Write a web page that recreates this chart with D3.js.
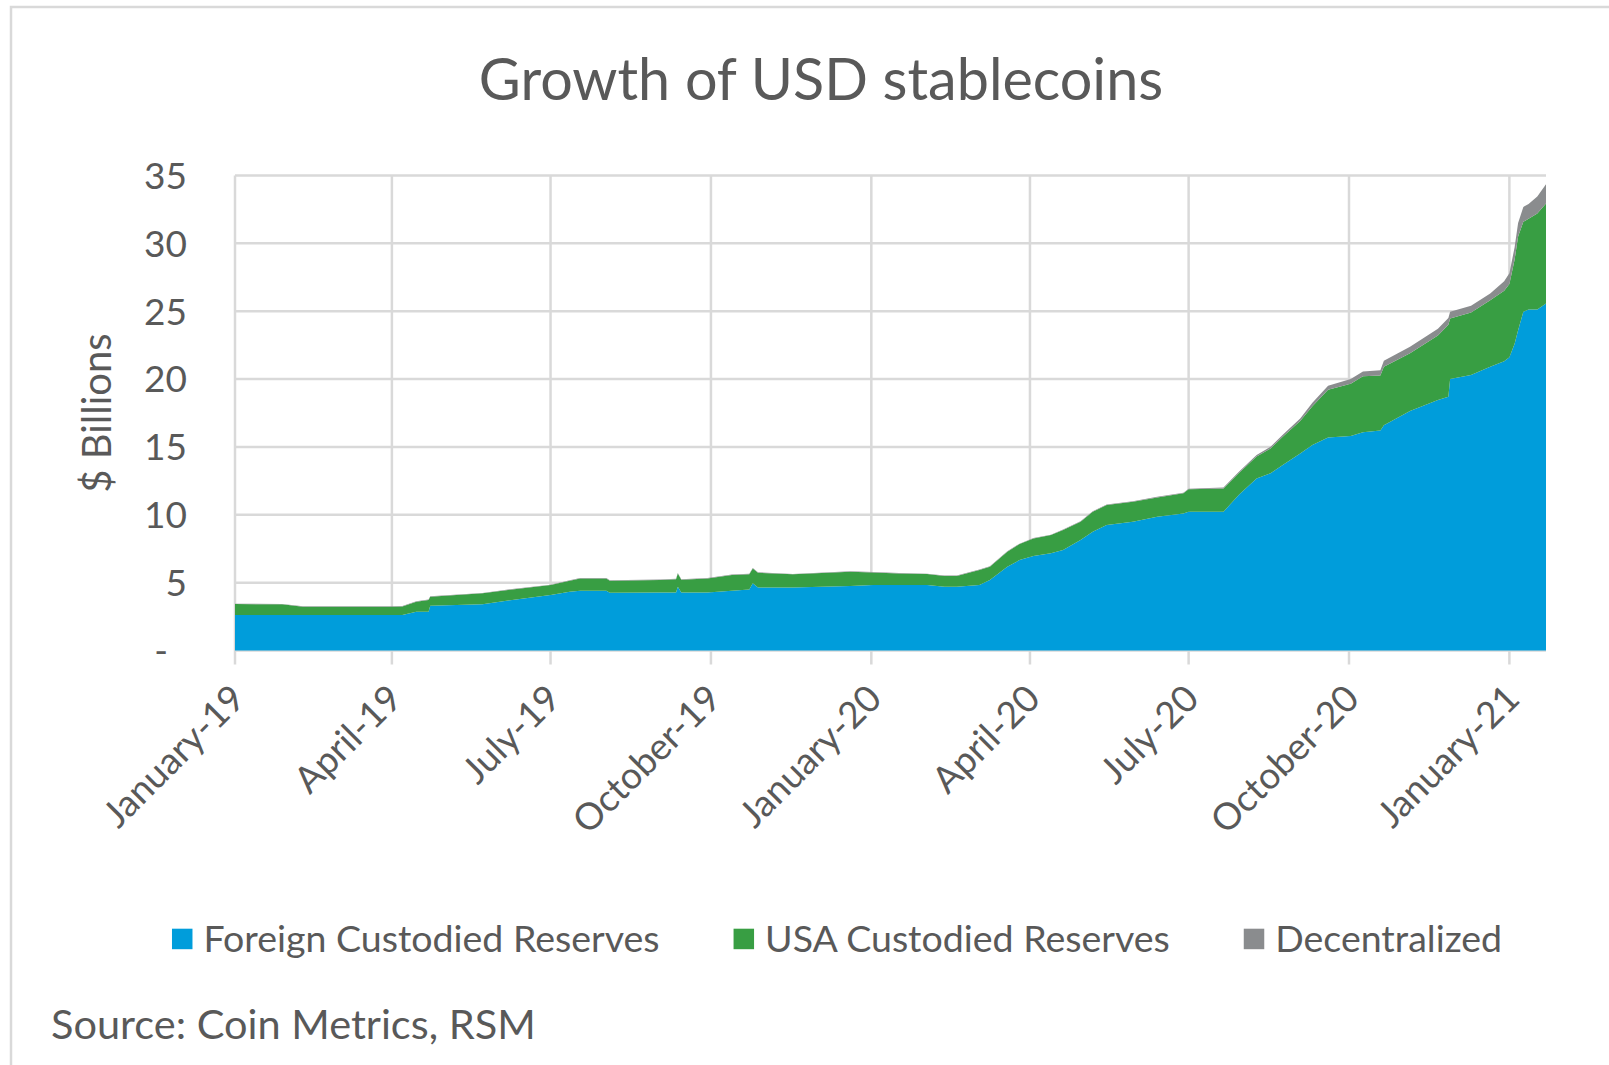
<!DOCTYPE html>
<html>
<head>
<meta charset="utf-8">
<script src="https://cdn.jsdelivr.net/npm/d3@7"></script>
<style>
    body { margin: 0; background: #ffffff; }
    svg text { font-family: Lato, "Noto Sans", sans-serif; fill: #595959; }
</style>
</head>
<body>
<svg id="chart" width="1609" height="1065"></svg>
<script>
// values ($ billions)
var dates = [
    '2019-01-01', '2019-01-28', '2019-02-09', '2019-04-01', '2019-04-07', '2019-04-15', '2019-04-22', '2019-04-23',
    '2019-05-23', '2019-06-09', '2019-07-01', '2019-07-12', '2019-07-18', '2019-08-02', '2019-08-04', '2019-09-02',
    '2019-09-11', '2019-09-12', '2019-09-14', '2019-09-29', '2019-10-13', '2019-10-23', '2019-10-25', '2019-10-28',
    '2019-11-17', '2019-12-20', '2020-01-02', '2020-01-17', '2020-02-02', '2020-02-12', '2020-02-19', '2020-03-03',
    '2020-03-09', '2020-03-19', '2020-03-26', '2020-04-03', '2020-04-13', '2020-04-20', '2020-04-30', '2020-05-07',
    '2020-05-15', '2020-05-30', '2020-06-13', '2020-06-28', '2020-07-01', '2020-07-21', '2020-07-30', '2020-08-09',
    '2020-08-17', '2020-08-24', '2020-09-03', '2020-09-10', '2020-09-19', '2020-10-02', '2020-10-09', '2020-10-19',
    '2020-10-21', '2020-11-05', '2020-11-21', '2020-11-27', '2020-11-28', '2020-12-10', '2020-12-21', '2020-12-29',
    '2021-01-01', '2021-01-04', '2021-01-06', '2021-01-09', '2021-01-12', '2021-01-17', '2021-01-22'
];
var foreign = [
    2.61, 2.61, 2.61, 2.61, 2.61, 2.86, 2.86, 3.30,
    3.40, 3.72, 4.09, 4.33, 4.40, 4.40, 4.26, 4.28,
    4.28, 4.70, 4.28, 4.28, 4.40, 4.50, 4.95, 4.65,
    4.65, 4.75, 4.82, 4.82, 4.82, 4.70, 4.70, 4.82,
    5.19, 6.17, 6.66, 6.96, 7.16, 7.40, 8.14, 8.75,
    9.24, 9.48, 9.85, 10.10, 10.22, 10.22, 11.50, 12.68,
    13.05, 13.66, 14.52, 15.13, 15.70, 15.80, 16.07, 16.20,
    16.60, 17.65, 18.45, 18.70, 20.00, 20.30, 20.90, 21.30,
    21.60, 22.60, 23.60, 24.95, 25.12, 25.12, 25.57
];
var usa = [
    0.81, 0.79, 0.62, 0.62, 0.64, 0.74, 0.86, 0.66,
    0.81, 0.78, 0.73, 0.81, 0.91, 0.91, 0.88, 0.92,
    0.97, 0.98, 0.94, 1.03, 1.16, 1.12, 1.10, 1.08,
    0.96, 1.05, 0.93, 0.86, 0.81, 0.79, 0.79, 1.11,
    0.98, 1.11, 1.18, 1.30, 1.34, 1.47, 1.34, 1.47,
    1.47, 1.48, 1.43, 1.48, 1.65, 1.72, 1.60, 1.62,
    1.84, 2.08, 2.38, 2.87, 3.50, 3.85, 4.13, 4.05,
    4.30, 4.25, 4.75, 5.30, 4.46, 4.60, 4.90, 5.20,
    5.40, 6.20, 6.90, 6.63, 6.68, 7.08, 7.36
];
var decentralized = [
    0.03, 0.03, 0.03, 0.03, 0.03, 0.03, 0.03, 0.03,
    0.03, 0.03, 0.03, 0.03, 0.03, 0.03, 0.03, 0.03,
    0.03, 0.03, 0.03, 0.03, 0.03, 0.03, 0.03, 0.03,
    0.03, 0.03, 0.03, 0.03, 0.03, 0.03, 0.03, 0.03,
    0.03, 0.03, 0.03, 0.03, 0.03, 0.04, 0.04, 0.04,
    0.04, 0.04, 0.05, 0.05, 0.05, 0.06, 0.08, 0.10,
    0.12, 0.15, 0.20, 0.25, 0.30, 0.35, 0.35, 0.40,
    0.45, 0.47, 0.50, 0.50, 0.49, 0.50, 0.50, 0.70,
    0.80, 0.90, 1.00, 1.10, 1.10, 1.25, 1.42
];
var seriesKeys = ['foreign', 'usa', 'decentralized'];
var seriesNames = ['Foreign Custodied Reserves', 'USA Custodied Reserves', 'Decentralized'];
var seriesColors = ['#009DDB', '#389E43', '#8A8C8E'];
var yTicks = [0, 5, 10, 15, 20, 25, 30, 35];
var xStart = '2019-01-01';
var xEnd = '2021-01-22';

var parseDate = d3.timeParse('%Y-%m-%d');
var plot = {left: 235, right: 1546, top: 175.4, bottom: 650.5};
var gridColor = '#D9D9D9';

var rows = dates.map(function (d, i) {
    return {date: parseDate(d), foreign: foreign[i], usa: usa[i], decentralized: decentralized[i]};
});

var svg = d3.select('#chart');

// chart frame
svg.append('rect')
    .attr('x', 11)
    .attr('y', 7)
    .attr('width', 1700)
    .attr('height', 1200)
    .style('fill', 'none')
    .style('stroke', gridColor)
    .style('stroke-width', 2.5);

var x = d3.scaleTime()
    .domain([parseDate(xStart), parseDate(xEnd)])
    .range([plot.left, plot.right]);

var y = d3.scaleLinear()
    .domain([0, 35])
    .range([plot.bottom, plot.top]);

var xTickDates = d3.timeMonth.every(3).range(parseDate(xStart), parseDate(xEnd));
var fmtMonth = d3.timeFormat('%B-%y');

// gridlines
var gridG = svg.append('g').attr('class', 'grid');
gridG.selectAll('line.h')
    .data(yTicks)
    .enter()
    .append('line')
    .attr('class', 'h')
    .attr('x1', plot.left)
    .attr('x2', plot.right)
    .attr('y1', function (d) { return y(d); })
    .attr('y2', function (d) { return y(d); })
    .style('stroke', gridColor)
    .style('stroke-width', 2.5);

gridG.selectAll('line.v')
    .data(xTickDates)
    .enter()
    .append('line')
    .attr('class', 'v')
    .attr('x1', function (d) { return x(d); })
    .attr('x2', function (d) { return x(d); })
    .attr('y1', plot.top)
    .attr('y2', plot.bottom + 14)
    .style('stroke', gridColor)
    .style('stroke-width', 2.5);

// stacked areas
var stack = d3.stack().keys(seriesKeys);
var layers = stack(rows);

var area = d3.area()
    .x(function (d) { return x(d.data.date); })
    .y0(function (d) { return y(d[0]); })
    .y1(function (d) { return y(d[1]); });

svg.append('g')
    .attr('class', 'areas')
    .selectAll('path')
    .data(layers)
    .enter()
    .append('path')
    .attr('d', area)
    .style('fill', function (d, i) { return seriesColors[i]; });

// y axis labels
var yAxis = d3.axisLeft(y)
    .tickValues(yTicks)
    .tickSize(0)
    .tickPadding(0)
    .tickFormat(function (d) { return d === 0 ? '-' : d; });

var yAxisG = svg.append('g')
    .attr('transform', 'translate(187,0)')
    .call(yAxis);
yAxisG.select('.domain').remove();
yAxisG.selectAll('text')
    .style('font-size', '37px')
    .style('fill', '#595959')
    .style('font-family', 'Lato, sans-serif')
    .attr('dy', '0.35em')
    .attr('x', function (d) { return d === 0 ? -19 : 0; });

// x axis labels
svg.append('g')
    .attr('class', 'xlabels')
    .selectAll('text')
    .data(xTickDates)
    .enter()
    .append('text')
    .attr('transform', function (d) {
        return 'translate(' + (x(d) + 2) + ',' + (plot.bottom + 40) + ') rotate(-45)';
    })
    .attr('text-anchor', 'end')
    .attr('dominant-baseline', 'central')
    .style('font-size', '37px')
    .text(function (d) { return fmtMonth(d); });

// y title
svg.append('text')
    .attr('transform', 'translate(96,413) rotate(-90)')
    .attr('text-anchor', 'middle')
    .attr('dominant-baseline', 'central')
    .style('font-size', '40px')
    .text('$ Billions');

// title
svg.append('text')
    .attr('x', 821)
    .attr('y', 100)
    .attr('text-anchor', 'middle')
    .style('font-size', '57.5px')
    .text('Growth of USD stablecoins');

// legend, centred like the reference
var legendG = svg.append('g').attr('class', 'legend');
var items = legendG.selectAll('g')
    .data(seriesNames)
    .enter()
    .append('g');
items.append('rect')
    .attr('width', 20.5)
    .attr('height', 20.5)
    .attr('y', 928.7)
    .style('fill', function (d, i) { return seriesColors[i]; });
items.append('text')
    .attr('x', 31.5)
    .attr('y', 952)
    .style('font-size', '37.5px')
    .text(function (d) { return d; });

var widths = [];
items.each(function () {
    widths.push(31.5 + d3.select(this).select('text').node().getComputedTextLength());
});
var legendGap = 74;
var total = d3.sum(widths) + legendGap * (widths.length - 1);
var cursor = 837 - total / 2;
items.attr('transform', function (d, i) {
    var tx = cursor;
    cursor += widths[i] + legendGap;
    return 'translate(' + tx + ',0)';
});

// source note
svg.append('text')
    .attr('x', 51)
    .attr('y', 1039)
    .style('font-size', '41.5px')
    .text('Source: Coin Metrics, RSM');
</script>
</body>
</html>
